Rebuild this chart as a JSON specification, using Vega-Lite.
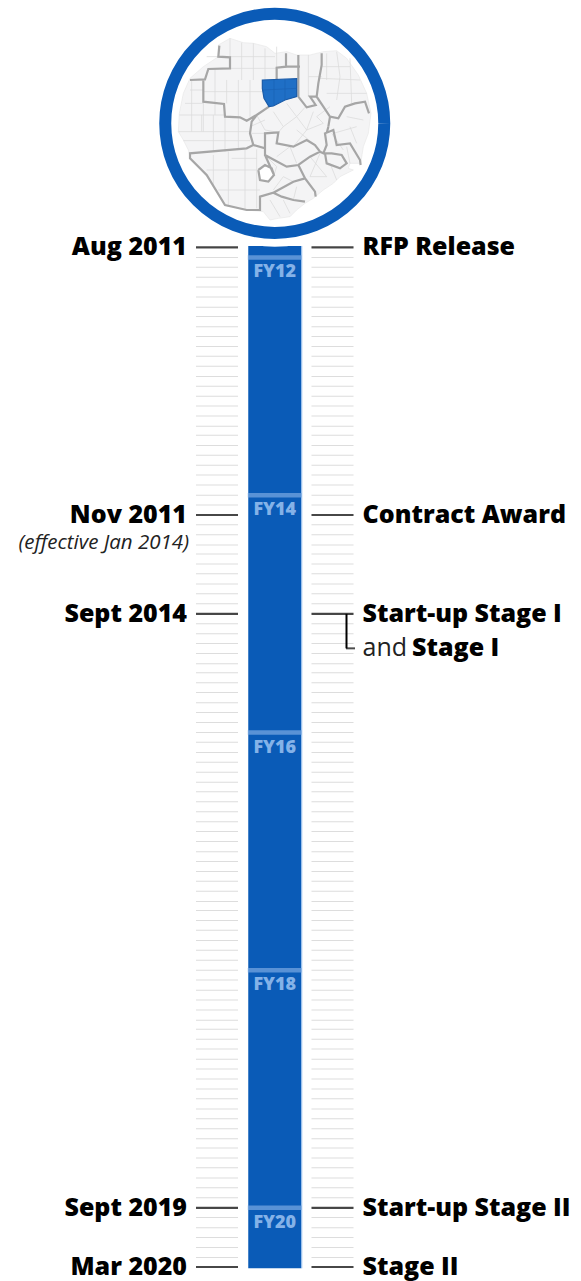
{
"$schema":"https://vega.github.io/schema/vega-lite/v6.json",
"autosize":{"type":"none"},
"width":581,"height":1281,"background":"white","padding":0,
"view":{"stroke":null},
"config":{"view":{"stroke":null}},
"datasets":{
"months":[{"d":"2011-08-01"},{"d":"2011-09-01"},{"d":"2011-10-01"},{"d":"2011-11-01"},{"d":"2011-12-01"},
{"d":"2012-01-01"},{"d":"2012-02-01"},{"d":"2012-03-01"},{"d":"2012-04-01"},{"d":"2012-05-01"},{"d":"2012-06-01"},{"d":"2012-07-01"},{"d":"2012-08-01"},{"d":"2012-09-01"},{"d":"2012-10-01"},{"d":"2012-11-01"},{"d":"2012-12-01"},
{"d":"2013-01-01"},{"d":"2013-02-01"},{"d":"2013-03-01"},{"d":"2013-04-01"},{"d":"2013-05-01"},{"d":"2013-06-01"},{"d":"2013-07-01"},{"d":"2013-08-01"},{"d":"2013-09-01"},{"d":"2013-10-01"},{"d":"2013-11-01"},{"d":"2013-12-01"},
{"d":"2014-01-01"},{"d":"2014-02-01"},{"d":"2014-03-01"},{"d":"2014-04-01"},{"d":"2014-05-01"},{"d":"2014-06-01"},{"d":"2014-07-01"},{"d":"2014-08-01"},{"d":"2014-09-01"},{"d":"2014-10-01"},{"d":"2014-11-01"},{"d":"2014-12-01"},
{"d":"2015-01-01"},{"d":"2015-02-01"},{"d":"2015-03-01"},{"d":"2015-04-01"},{"d":"2015-05-01"},{"d":"2015-06-01"},{"d":"2015-07-01"},{"d":"2015-08-01"},{"d":"2015-09-01"},{"d":"2015-10-01"},{"d":"2015-11-01"},{"d":"2015-12-01"},
{"d":"2016-01-01"},{"d":"2016-02-01"},{"d":"2016-03-01"},{"d":"2016-04-01"},{"d":"2016-05-01"},{"d":"2016-06-01"},{"d":"2016-07-01"},{"d":"2016-08-01"},{"d":"2016-09-01"},{"d":"2016-10-01"},{"d":"2016-11-01"},{"d":"2016-12-01"},
{"d":"2017-01-01"},{"d":"2017-02-01"},{"d":"2017-03-01"},{"d":"2017-04-01"},{"d":"2017-05-01"},{"d":"2017-06-01"},{"d":"2017-07-01"},{"d":"2017-08-01"},{"d":"2017-09-01"},{"d":"2017-10-01"},{"d":"2017-11-01"},{"d":"2017-12-01"},
{"d":"2018-01-01"},{"d":"2018-02-01"},{"d":"2018-03-01"},{"d":"2018-04-01"},{"d":"2018-05-01"},{"d":"2018-06-01"},{"d":"2018-07-01"},{"d":"2018-08-01"},{"d":"2018-09-01"},{"d":"2018-10-01"},{"d":"2018-11-01"},{"d":"2018-12-01"},
{"d":"2019-01-01"},{"d":"2019-02-01"},{"d":"2019-03-01"},{"d":"2019-04-01"},{"d":"2019-05-01"},{"d":"2019-06-01"},{"d":"2019-07-01"},{"d":"2019-08-01"},{"d":"2019-09-01"},{"d":"2019-10-01"},{"d":"2019-11-01"},{"d":"2019-12-01"},
{"d":"2020-01-01"},{"d":"2020-02-01"},{"d":"2020-03-01"}],
"milestones":[
{"d":"2011-08-01","date":"Aug 2011","event":"RFP Release"},
{"d":"2013-11-01","date":"Nov 2011","event":"Contract Award"},
{"d":"2014-09-01","date":"Sept 2014","event":"Start-up Stage I"},
{"d":"2019-09-01","date":"Sept 2019","event":"Start-up Stage II"},
{"d":"2020-03-01","date":"Mar 2020","event":"Stage II"}],
"fiscal":[
{"d":"2011-09-01","fy":"FY12"},{"d":"2013-09-01","fy":"FY14"},{"d":"2015-09-01","fy":"FY16"},{"d":"2017-09-01","fy":"FY18"},{"d":"2019-09-01","fy":"FY20"}]
},
"encoding":{
"y":{"field":"d","type":"temporal","axis":null,"scale":{"domain":["2011-08-01","2020-03-01"],"range":[247.3,1267],"nice":false,"clamp":false}},
"x":{"datum":"timeline","type":"nominal","axis":null,"scale":{"type":"point","padding":0,"domain":["left","timeline","right"],"range":[217,332.5]}}
},
"layer":[
{"data":{"values":[{"d":"2011-07-28","e":"2020-03-05"}]},
 "mark":{"type":"bar","size":53,"color":"#0a5bb7"},
 "encoding":{"y2":{"field":"e"}}},
{"data":{"values":[{"d":"2011-07-28","e":"2020-03-05"}]},
 "mark":{"type":"rule","color":"#8db8ea","strokeWidth":1,"xOffset":27},
 "encoding":{"y2":{"field":"e"}}},
{"data":{"name":"fiscal"},"mark":{"type":"tick","orient":"horizontal","size":54,"thickness":4.5,"color":"#7aaae3"}},
{"data":{"name":"fiscal"},"mark":{"type":"text","dy":15,"font":"Open Sans","fontWeight":800,"fontSize":18,"color":"#84b2e8","align":"center","baseline":"middle"},"encoding":{"text":{"field":"fy"}}},
{"data":{"name":"months"},"mark":{"type":"tick","orient":"horizontal","size":42,"thickness":1,"color":"#cfcfcf"},"encoding":{"x":{"datum":"left"}}},
{"data":{"name":"months"},"mark":{"type":"tick","orient":"horizontal","size":42,"thickness":1,"color":"#cfcfcf"},"encoding":{"x":{"datum":"right"}}},
{"data":{"name":"milestones"},"mark":{"type":"tick","orient":"horizontal","size":42,"thickness":2.2,"color":"#000000"},"encoding":{"x":{"datum":"left"}}},
{"data":{"name":"milestones"},"mark":{"type":"tick","orient":"horizontal","size":42,"thickness":2.2,"color":"#000000"},"encoding":{"x":{"datum":"right"}}},
{"data":{"values":[{"d":"2014-09-01","e":"2014-12-16"}]},"mark":{"type":"rule","color":"#000000","strokeWidth":2,"xOffset":14},"encoding":{"x":{"datum":"right"},"y2":{"field":"e"}}},
{"data":{"values":[{"d":"2014-12-16"}]},"mark":{"type":"tick","orient":"horizontal","size":9,"thickness":2,"color":"#000000","xOffset":18},"encoding":{"x":{"datum":"right"}}},
{"data":{"values":[{"d":"2010-07-16"}]},"mark":{"type":"point","shape":"circle","filled":true,"size":61000,"color":"white","opacity":1}},
{"data":{"values":[{"type":"Feature","properties":{},"geometry":{"type":"Polygon","coordinates":[[[205,135],[240,115],[280,128],[310,130],[350,140],[375,160],[410,155],[440,165],[480,165],[520,155],[560,152],[590,175],[625,225],[650,280],[663,340],[655,400],[640,440],[632,490],[600,490],[595,505],[610,510],[570,530],[550,550],[520,570],[490,595],[465,610],[440,630],[420,650],[385,655],[360,660],[340,635],[290,630],[225,615],[170,530],[120,470],[115,450],[100,420],[85,395],[88,340],[100,280],[120,235],[160,200],[205,170],[205,135]]]}}]},
 "mark":{"type":"geoshape","fill":"#f4f4f5","stroke":"#e6e6e6","strokeWidth":0.6},
 "projection":{"type":"identity","scale":0.33333,"translate":[150,0]}},
{"data":{"values":[{"type":"Feature","properties":{},"geometry":{"type":"MultiLineString","coordinates":[
[[240,115],[240,205]],[[275,128],[275,240]],[[310,130],[310,240]],[[345,145],[345,240]],[[240,170],[375,170]],[[170,170],[205,170]],[[240,205],[380,205]],
[[120,270],[160,270]],[[105,310],[160,310]],[[88,345],[225,345]],[[125,240],[125,395]],[[195,207],[195,345]],[[230,240],[230,310]],[[265,240],[265,350]],[[300,240],[300,350]],[[160,305],[160,395]],
[[160,275],[340,275]],[[85,395],[300,395]],[[100,422],[300,422]],[[190,345],[190,455]],[[225,350],[225,455]],[[265,355],[265,450]],[[155,345],[155,395]],
[[190,465],[190,555]],[[235,455],[235,620]],[[285,450],[285,630]],[[320,448],[320,625]],[[170,510],[340,510]],[[205,570],[330,570]],[[245,475],[320,475]],
[[320,345],[345,390],[385,397]],[[370,335],[400,380],[440,350],[470,390],[430,440]],[[400,380],[385,397]],[[440,350],[465,322]],[[470,390],[520,370]],[[490,335],[470,390]],
[[530,280],[650,280]],[[510,235],[630,240]],[[560,155],[570,230],[560,300]],[[515,200],[600,200]],[[600,175],[605,310]],[[345,360],[300,380]],[[305,400],[345,400]],
[[550,400],[620,380]],[[600,380],[620,430]],[[640,360],[590,350]],[[380,470],[420,440],[440,490]],[[480,470],[530,530],[480,530]],[[540,490],[560,540]],[[360,600],[390,650]],[[400,600],[420,640]],[[440,560],[430,600]],[[370,570],[400,530],[430,545]],[[510,460],[480,530]],[[350,470],[380,500],[372,525]],[[440,390],[495,435]],[[410,310],[440,350]],[[540,320],[500,350],[520,370]],[[380,140],[380,203]],[[475,165],[475,290]],[[475,230],[515,230]],[[530,240],[530,160]],[[590,440],[600,490]],[[545,400],[580,450]]
]}}]},
 "mark":{"type":"geoshape","filled":false,"stroke":"#dcdcdc","strokeWidth":0.8},
 "projection":{"type":"identity","scale":0.33333,"translate":[150,0]}},
{"data":{"values":[{"type":"Feature","properties":{},"geometry":{"type":"Polygon","coordinates":[[[325,510],[345,495],[365,505],[372,525],[355,545],[330,540],[325,510]]]}}]},
 "mark":{"type":"geoshape","fill":"#ffffff"},
 "projection":{"type":"identity","scale":0.33333,"translate":[150,0]}},
{"data":{"values":[{"type":"Feature","properties":{},"geometry":{"type":"MultiLineString","coordinates":[
[[208,137],[205,170],[240,172],[240,205],[175,207],[165,238],[120,240]],
[[160,238],[160,305],[222,312],[225,350],[270,352],[290,362],[320,345],[357,320]],
[[380,240],[380,203],[408,200],[408,160]],[[408,200],[450,200]],[[445,165],[445,290]],
[[445,290],[470,322],[497,315],[480,290],[500,290]],
[[515,160],[515,195],[505,250],[500,290],[520,320],[540,350],[535,380]],
[[540,350],[565,355],[585,320],[615,310],[645,305],[657,340]],
[[320,345],[305,365],[300,400],[310,435],[290,445],[120,460],[120,475],[170,525],[225,615],[290,630],[330,630],[330,590],[370,578],[395,590],[430,600],[465,605]],
[[310,435],[345,445],[345,400],[385,397],[380,430],[430,440],[470,420],[495,435],[510,455],[480,470],[445,495],[410,500],[345,465],[345,445]],
[[325,510],[345,495],[365,505],[372,525],[355,545],[330,540],[325,510]],
[[372,525],[345,465]],
[[370,578],[430,545],[465,535],[495,575],[497,590]],
[[445,495],[465,535]],
[[510,455],[520,460],[530,435],[525,400],[550,390],[560,435],[600,430],[630,480],[632,495]],
[[535,380],[530,400]],
[[520,460],[545,460],[575,465],[590,490],[570,505],[530,490],[525,460]]
]}}]},
 "mark":{"type":"geoshape","filled":false,"stroke":"#a6a6a6","strokeWidth":2.2},
 "projection":{"type":"identity","scale":0.33333,"translate":[150,0]}},
{"data":{"values":[{"type":"Feature","properties":{},"geometry":{"type":"Polygon","coordinates":[[[337,240],[440,236],[440,290],[405,300],[370,318],[357,320],[342,295],[337,265],[337,240]]]}}]},
 "mark":{"type":"geoshape","fill":"#1f6fc6","stroke":"#1a5ba8","strokeWidth":1.2},
 "projection":{"type":"identity","scale":0.33333,"translate":[150,0]}},
{"data":{"values":[{"type":"Feature","properties":{},"geometry":{"type":"MultiLineString","coordinates":[[[372,238],[372,316]],[[405,237],[405,300]],[[340,270],[440,265]]]}}]},
 "mark":{"type":"geoshape","filled":false,"stroke":"#1a62b4","strokeWidth":0.7},
 "projection":{"type":"identity","scale":0.33333,"translate":[150,0]}},
{"data":{"values":[{"d":"2010-07-16"}]},"mark":{"type":"point","shape":"circle","filled":false,"size":47961,"stroke":"#0a5bb7","strokeWidth":12,"opacity":1}},
{"data":{"name":"milestones"},"mark":{"type":"text","align":"right","baseline":"middle","dx":-30,"font":"Open Sans","fontWeight":800,"fontSize":25,"color":"#000000"},"encoding":{"x":{"datum":"left"},"text":{"field":"date"}}},
{"data":{"name":"milestones"},"mark":{"type":"text","align":"left","baseline":"middle","dx":30,"font":"Open Sans","fontWeight":800,"fontSize":25,"color":"#000000"},"encoding":{"x":{"datum":"right"},"text":{"field":"event"}}},
{"data":{"values":[{"d":"2014-01-26","t":"(effective Jan 2014)"}]},"mark":{"type":"text","align":"right","baseline":"middle","dx":-28,"font":"Open Sans","fontStyle":"italic","fontSize":20.5,"color":"#222222"},"encoding":{"x":{"datum":"left"},"text":{"field":"t"}}},
{"data":{"values":[{"d":"2014-12-16","t":"and"}]},"mark":{"type":"text","align":"left","baseline":"middle","dx":30,"font":"Open Sans","fontSize":25,"color":"#222222"},"encoding":{"x":{"datum":"right"},"text":{"field":"t"}}},
{"data":{"values":[{"d":"2014-12-16","t":"Stage I"}]},"mark":{"type":"text","align":"left","baseline":"middle","dx":79.5,"font":"Open Sans","fontWeight":800,"fontSize":25,"color":"#000000"},"encoding":{"x":{"datum":"right"},"text":{"field":"t"}}}
]
}
